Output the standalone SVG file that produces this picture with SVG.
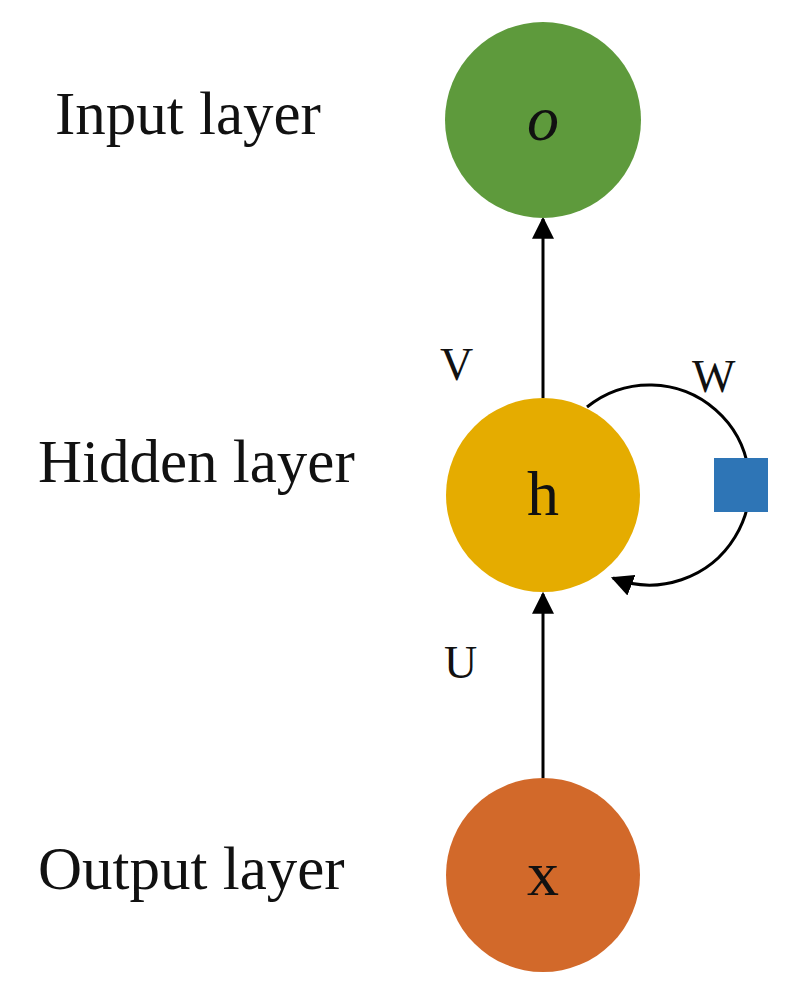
<svg xmlns="http://www.w3.org/2000/svg" width="811" height="1004" viewBox="0 0 811 1004">
<style>
.lbl{font-family:"Liberation Serif",serif;font-size:61px;fill:#111}
.sm{font-family:"Liberation Serif",serif;font-size:46px;fill:#111}
.nd{font-family:"Liberation Serif",serif;font-size:64px;fill:#111;text-anchor:middle}
.ln{stroke:#000;stroke-width:3;fill:none}
</style>
<defs>
<marker id="a" viewBox="0 0 10 10" refX="9" refY="5" markerWidth="22" markerHeight="22" markerUnits="userSpaceOnUse" orient="auto"><path d="M0,0L10,5L0,10z" fill="#000"/></marker></defs>
<rect width="811" height="1004" fill="#fff"/>
<g id="connectors">
<line class="ln" x1="543" y1="778" x2="543" y2="594" marker-end="url(#a)"/>
<line class="ln" x1="543" y1="398" x2="543" y2="219" marker-end="url(#a)"/>
<path class="ln" d="M587,407 A100,100 0 1 1 613,578" marker-end="url(#a)"/>
</g>
<g id="node-o"><circle cx="543" cy="120" r="98" fill="#5e9a3c"/><text class="nd" x="543" y="140" font-style="italic">o</text></g>
<g id="node-h"><circle cx="543" cy="495" r="97" fill="#e5ac00"/><text class="nd" x="543" y="515">h</text></g>
<g id="node-x"><circle cx="543" cy="875" r="97" fill="#d2692a"/><text class="nd" x="543" y="895">x</text></g>
<g id="node-w"><rect x="714" y="458" width="54" height="54" fill="#2e75b6"/></g>
<g id="labels">
<text class="lbl" x="55" y="134">Input layer</text>
<text class="lbl" x="38" y="482">Hidden layer</text>
<text class="lbl" x="38" y="889">Output layer</text>
<text class="sm" x="440" y="380">V</text>
<text class="sm" x="692" y="392">W</text>
<text class="sm" x="444" y="678">U</text>
</g>
</svg>
